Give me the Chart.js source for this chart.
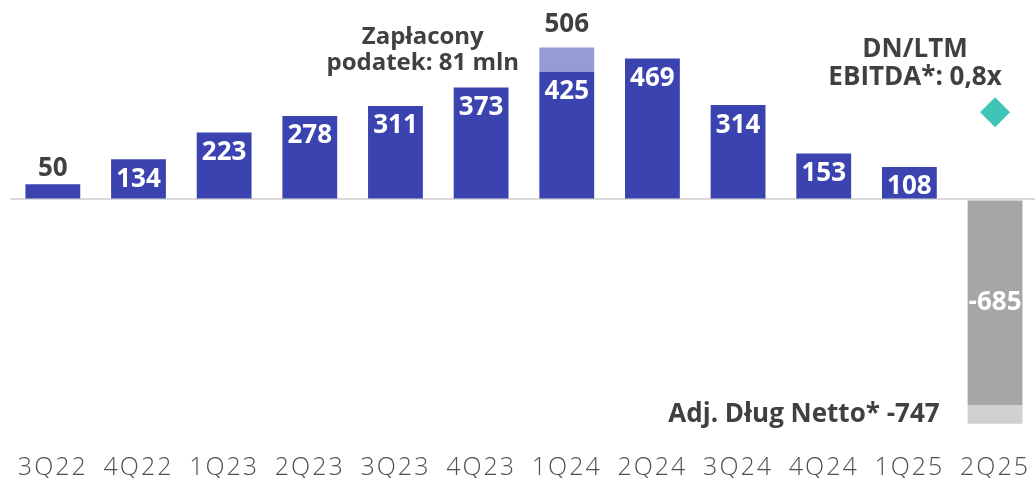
<!DOCTYPE html>
<html>
<head>
<meta charset="utf-8">
<script src="https://cdn.jsdelivr.net/npm/chart.js@4"></script>
<style>
  body { margin: 0; overflow: hidden; background: #fff; }
</style>
</head>
<body>
<canvas id="chart" width="1040" height="478"></canvas>
<script>
const labels = ['3Q22', '4Q22', '1Q23', '2Q23', '3Q23', '4Q23', '1Q24', '2Q24', '3Q24', '4Q24', '1Q25', '2Q25'];
const debtValues = [50, 134, 223, 278, 311, 373, 425, 469, 314, 153, 108, null];
const taxValues = [null, null, null, null, null, null, 81, null, null, null, null, null];
const cashValues = [null, null, null, null, null, null, null, null, null, null, null, -685];
const adjValues = [null, null, null, null, null, null, null, null, null, null, null, -62];
const ratioMarker = [null, null, null, null, null, null, null, null, null, null, null, 290];

const dark = '#404040';
const valueFont = '700 26px "Open Sans"';

// wider spacing for the quarter labels
const spacingPlugin = {
    id: 'tickSpacing',
    beforeDraw(chart) { chart.ctx.letterSpacing = '2px'; },
    afterDraw(chart) { chart.ctx.letterSpacing = '0px'; }
};

const labelPlugin = {
    id: 'valueLabels',
    afterDatasetsDraw(chart) {
        const ctx = chart.ctx;
        const x = chart.scales.x;
        ctx.save();
        ctx.letterSpacing = '0px';
        ctx.textAlign = 'center';
        ctx.textBaseline = 'middle';
        ctx.font = valueFont;

        // blue bars
        chart.getDatasetMeta(0).data.forEach((el, i) => {
            const v = debtValues[i];
            if (v == null) return;
            if (v < 100) {
                ctx.fillStyle = dark;
                ctx.fillText(v, el.x, el.y - 16);
            } else {
                ctx.fillStyle = '#fff';
                ctx.fillText(v, el.x, el.y + 20);
            }
        });

        // total over the tax bar
        chart.getDatasetMeta(1).data.forEach((el, i) => {
            if (taxValues[i] == null) return;
            ctx.fillStyle = dark;
            ctx.fillText(debtValues[i] + taxValues[i], el.x, el.y - 23);
        });

        // negative bar
        chart.getDatasetMeta(2).data.forEach((el, i) => {
            if (cashValues[i] == null) return;
            ctx.fillStyle = '#fff';
            ctx.fillText(cashValues[i], el.x, (el.y + el.base) / 2);
        });

        chart.getDatasetMeta(3).data.forEach((el, i) => {
            if (adjValues[i] == null) return;
            ctx.fillStyle = dark;
            ctx.textAlign = 'right';
            ctx.fillText('Adj. Dług Netto* ' + (cashValues[i] + adjValues[i]), el.x - el.width / 2 - 28, (el.y + el.base) / 2);
        });

        // notes
        ctx.textAlign = 'center';
        ctx.fillStyle = dark;
        ctx.font = '700 24px "Open Sans"';
        const taxX = x.getPixelForValue(6) - 144;
        ctx.fillText('Zapłacony', taxX, 37);
        ctx.fillText('podatek: 81 mln', taxX, 63);
        ctx.font = '700 26px "Open Sans"';
        const dnX = x.getPixelForValue(11) - 80;
        ctx.fillText('DN/LTM', dnX, 50);
        ctx.fillText('EBITDA*: 0,8x', dnX, 78);
        ctx.restore();
    }
};

new Chart(document.getElementById('chart'), {
    type: 'bar',
    data: {
        labels: labels,
        datasets: [
            { label: 'Dług netto', data: debtValues, backgroundColor: '#3a43af', order: 2 },
            { label: 'Podatek', data: taxValues, backgroundColor: '#959bd6', order: 2 },
            { label: 'Gotówka', data: cashValues, backgroundColor: '#a6a6a6', order: 2 },
            { label: 'Adj.', data: adjValues, backgroundColor: '#d0d0d0', order: 2 },
            {
                type: 'line', label: 'DN/LTM EBITDA', data: ratioMarker, stack: 'ratio',
                showLine: false, pointStyle: 'rectRot', pointRadius: 15,
                backgroundColor: '#40c4b8', borderColor: '#40c4b8', borderWidth: 0, order: 1
            }
        ]
    },
    options: {
        responsive: false,
        animation: false,
        layout: { autoPadding: false, padding: { left: 10, right: 0, top: 0, bottom: -16 } },
        datasets: { bar: { categoryPercentage: 0.64, barPercentage: 1 } },
        plugins: { legend: { display: false }, tooltip: { enabled: false } },
        scales: {
            x: {
                stacked: true,
                grid: { display: false },
                border: { display: false },
                ticks: { color: '#505050', font: { family: 'Open Sans', size: 25, weight: 300, lineHeight: 1 }, padding: 14, maxRotation: 0, autoSkip: false }
            },
            y: {
                stacked: true,
                min: -778,
                max: 664,
                border: { display: false },
                ticks: { display: false, stepSize: 100 },
                grid: {
                    drawTicks: false,
                    lineWidth: 2,
                    color: c => c.tick && c.tick.value === 0 ? '#d9d9d9' : 'transparent'
                }
            }
        }
    },
    plugins: [spacingPlugin, labelPlugin]
});
</script>
</body>
</html>
